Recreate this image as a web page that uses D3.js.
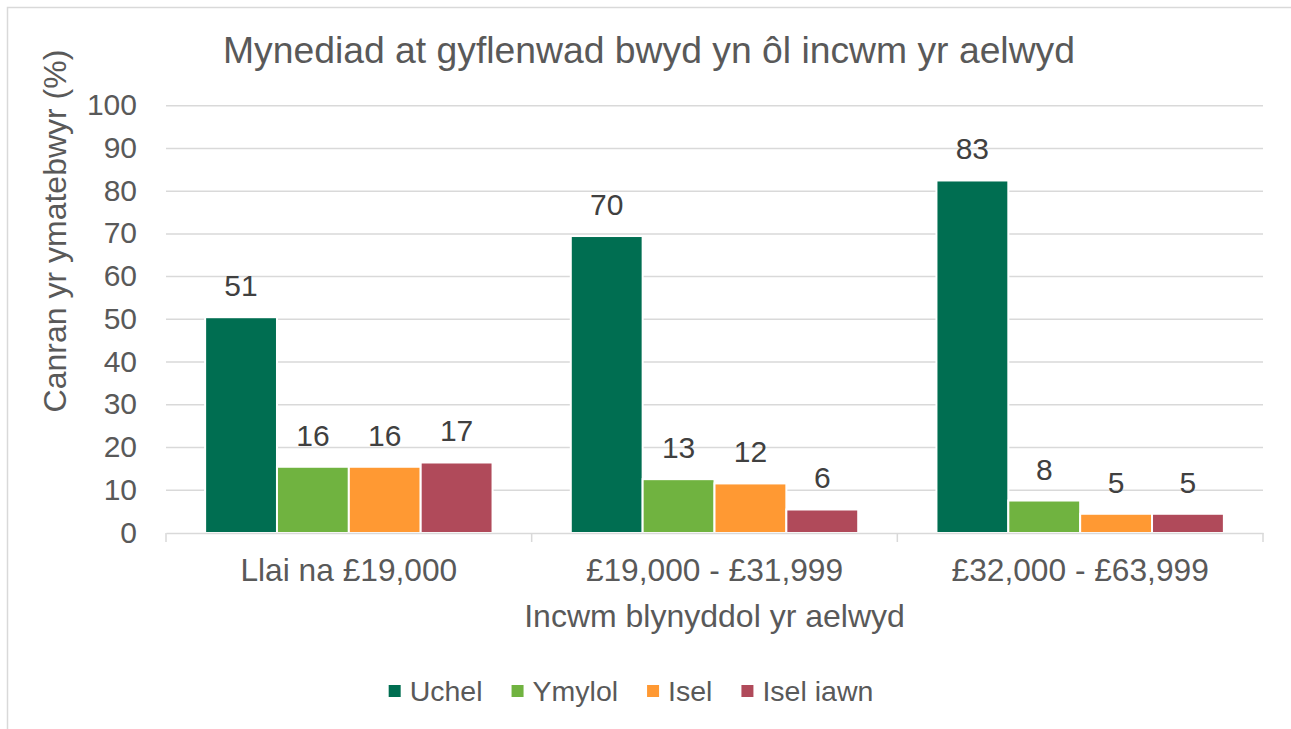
<!DOCTYPE html>
<html>
  <head>
    <meta charset="UTF-8">
    <title>Mynediad at gyflenwad bwyd</title>
    <script src="https://d3js.org/d3.v7.min.js" charset="utf-8"></script>
    <style>
      body { margin: 0; background: #fff; }
      text { font-family: Arial, "Liberation Sans", sans-serif; }
    </style>
  </head>
  <body>
    <script>
        var w = 1291;
        var h = 729;

        // data
        var categories = ["Llai na £19,000", "£19,000 - £31,999", "£32,000 - £63,999"];
        var seriesNames = ["Uchel", "Ymylol", "Isel", "Isel iawn"];
        var uchel = [50.5, 69.5, 82.5];
        var ymylol = [15.5, 12.6, 7.6];
        var isel = [15.5, 11.6, 4.5];
        var iselIawn = [16.5, 5.5, 4.5];
        var yTicks = [0, 10, 20, 30, 40, 50, 60, 70, 80, 90, 100];

        var colors = ["#006E51", "#70B340", "#FF9933", "#B04A5A"];
        var seriesValues = [uchel, ymylol, isel, iselIawn];

        var rows = [];
        categories.forEach(function(c, i){
            seriesNames.forEach(function(s, j){
                rows.push({cat: c, series: s, value: seriesValues[j][i], color: colors[j]});
            });
        });

        var margin = {left: 166, right: 28, top: 105.7, bottom: 196};
        var plotW = w - margin.left - margin.right;

        var svg = d3.select("body").append("svg")
            .attr("width", w)
            .attr("height", h);

        // outer chart border (right and bottom edges fall outside the picture)
        svg.append("rect")
            .attr("x", 7.5).attr("y", 7.5)
            .attr("width", 1300).attr("height", 740)
            .attr("fill", "none")
            .attr("stroke", "#d9d9d9")
            .attr("stroke-width", 1.5);

        var x0 = d3.scaleBand()
            .domain(categories)
            .range([margin.left, margin.left + plotW])
            .paddingInner(0)
            .paddingOuter(0);

        var groupPad = 0.107;
        var x1 = d3.scaleBand()
            .domain(seriesNames)
            .range([x0.bandwidth() * groupPad, x0.bandwidth() * (1 - groupPad)]);

        var y = d3.scaleLinear()
            .domain([0, 100])
            .range([533, 105.7]);

        // gridlines
        svg.append("g")
            .selectAll("line")
            .data(yTicks.filter(function(d){ return d > 0; }))
            .enter()
            .append("line")
            .attr("x1", margin.left)
            .attr("x2", margin.left + plotW)
            .attr("y1", function(d){ return y(d); })
            .attr("y2", function(d){ return y(d); })
            .attr("stroke", "#d9d9d9")
            .attr("stroke-width", 1.5);

        // y tick labels
        svg.append("g")
            .selectAll("text")
            .data(yTicks)
            .enter()
            .append("text")
            .attr("x", 137)
            .attr("y", function(d){ return y(d) + 9.5; })
            .attr("text-anchor", "end")
            .attr("font-size", "30px")
            .attr("fill", "#595959")
            .text(function(d){ return d; });

        // bars
        svg.append("g")
            .selectAll("rect")
            .data(rows)
            .enter()
            .append("rect")
            .attr("x", function(d){ return x0(d.cat) + x1(d.series); })
            .attr("y", function(d){ return y(d.value); })
            .attr("width", x1.bandwidth())
            .attr("height", function(d){ return y(0) - y(d.value); })
            .attr("fill", function(d){ return d.color; })
            .attr("stroke", "#fff")
            .attr("stroke-width", 2);

        // x axis line and ticks
        var xAxis = d3.axisBottom(x0).tickSize(0).tickFormat("");
        var gx = svg.append("g")
            .attr("transform", "translate(0,533)")
            .call(xAxis);
        gx.select(".domain").attr("stroke", "#d9d9d9").attr("stroke-width", 1.5);
        gx.selectAll(".tick").remove();
        var bounds = categories.map(function(c){ return x0(c); }).concat([margin.left + plotW]);
        gx.selectAll("line.sep")
            .data(bounds)
            .enter()
            .append("line")
            .attr("class", "sep")
            .attr("x1", function(d){ return d; })
            .attr("x2", function(d){ return d; })
            .attr("y1", 0)
            .attr("y2", 9)
            .attr("stroke", "#d9d9d9")
            .attr("stroke-width", 1.5);

        // category labels
        svg.append("g")
            .selectAll("text")
            .data(categories)
            .enter()
            .append("text")
            .attr("x", function(d){ return x0(d) + x0.bandwidth() / 2; })
            .attr("y", 581)
            .attr("text-anchor", "middle")
            .attr("font-size", "31.7px")
            .attr("fill", "#595959")
            .text(function(d){ return d; });

        // data labels
        svg.append("g")
            .selectAll("text")
            .data(rows)
            .enter()
            .append("text")
            .attr("x", function(d){ return x0(d.cat) + x1(d.series) + x1.bandwidth() / 2; })
            .attr("y", function(d){ return y(d.value) - 21; })
            .attr("text-anchor", "middle")
            .attr("font-size", "30px")
            .attr("fill", "#404040")
            .text(function(d){ return Math.round(d.value); });

        // title
        svg.append("text")
            .attr("x", 649)
            .attr("y", 63)
            .attr("text-anchor", "middle")
            .attr("font-size", "37.3px")
            .attr("fill", "#595959")
            .text("Mynediad at gyflenwad bwyd yn ôl incwm yr aelwyd");

        // axis titles
        svg.append("text")
            .attr("transform", "translate(66,231) rotate(-90)")
            .attr("text-anchor", "middle")
            .attr("font-size", "32px")
            .attr("fill", "#595959")
            .text("Canran yr ymatebwyr (%)");

        svg.append("text")
            .attr("x", margin.left + plotW / 2)
            .attr("y", 627)
            .attr("text-anchor", "middle")
            .attr("font-size", "32px")
            .attr("fill", "#595959")
            .text("Incwm blynyddol yr aelwyd");

        // legend
        var legend = svg.append("g");
        var items = legend.selectAll("g")
            .data(seriesNames)
            .enter()
            .append("g");
        items.append("rect")
            .attr("width", 12)
            .attr("height", 12)
            .attr("y", 685)
            .attr("fill", function(d, i){ return colors[i]; });
        items.append("text")
            .attr("x", 21)
            .attr("y", 701)
            .attr("font-size", "28.5px")
            .attr("fill", "#595959")
            .text(function(d){ return d; });

        var pos = 0;
        var offsets = [];
        items.each(function(d){
            offsets.push(pos);
            pos += 21 + d3.select(this).select("text").node().getComputedTextLength() + 29;
        });
        var totalW = pos - 29;
        var startX = 631 - totalW / 2;
        items.attr("transform", function(d, i){ return "translate(" + (startX + offsets[i]) + ",0)"; });
    </script>
  </body>
</html>
